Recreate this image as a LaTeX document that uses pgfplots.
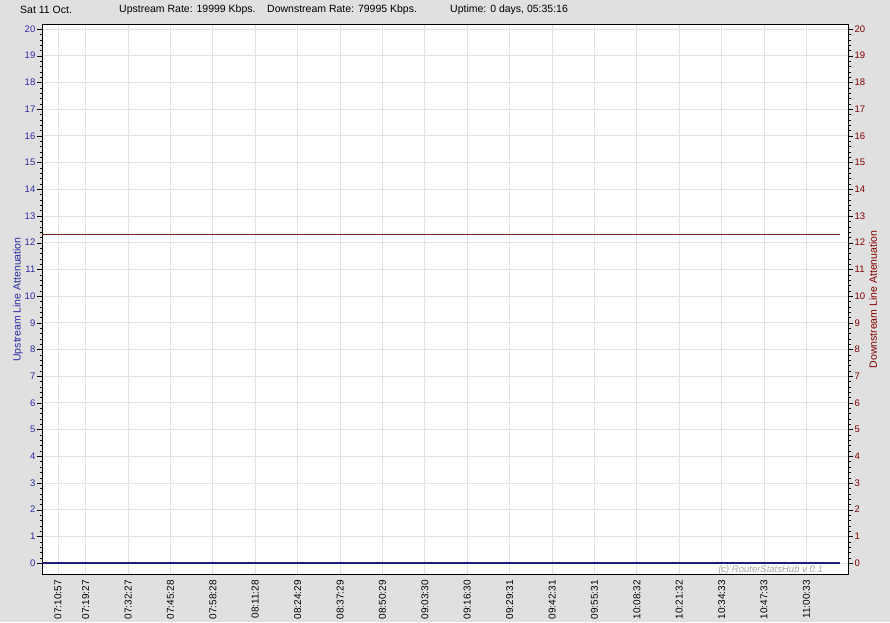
\documentclass[border=0pt]{standalone}
\usepackage{fontspec}
\setmainfont{Liberation Sans}
\usepackage{pgfplots}
\pgfplotsset{compat=1.18}
\definecolor{bg}{HTML}{E0E0E0}
\definecolor{upc}{HTML}{2B2BA0}
\definecolor{dnc}{HTML}{800000}
\definecolor{upline}{HTML}{1E1E78}
\definecolor{dnline}{HTML}{7A1E1E}
\definecolor{gridc}{HTML}{E2E2E2}
\begin{document}
\begin{tikzpicture}[x=1pt,y=1pt,font=\fontsize{10.5pt}{12.5pt}\selectfont]
\fill[bg] (0,0) rectangle (890,622);
\useasboundingbox (0,0) rectangle (890,622);
\node[anchor=west,inner sep=0] at (20,612) {Sat 11 Oct.};
\node[anchor=west,inner sep=0] at (119,612) {Upstream Rate: 19999 Kbps.};
\node[anchor=west,inner sep=0] at (267,612) {Downstream Rate: 79995 Kbps.};
\node[anchor=west,inner sep=0] at (450,612) {Uptime: 0 days, 05:35:16};
\pgfplotsset{
  base/.style={
    at={(42pt,48pt)}, anchor=south west, scale only axis,
    width=806pt, height=549pt,
    xmin=426.04, xmax=673.31, ymin=-0.41, ymax=20.15,
    ytick={0,1,...,20}, minor y tick num=4,
    tick align=outside, major tick length=5pt, minor tick length=2.5pt,
    /pgf/number format/assume math mode=true,
    yticklabel style={font=\fontsize{9.5pt}{11pt}\selectfont,inner sep=1.5pt},
    label style={font=\fontsize{10.5pt}{12.5pt}\selectfont},
  }
}
\begin{axis}[base,
  axis background/.style={fill=white},
  axis line style={black,line width=1pt},
  xmajorgrids, ymajorgrids,
  grid style={gridc,line width=0.8pt},
  xtick={430.95,439.45,452.45,465.4667,478.4667,491.4667,504.4833,517.4833,530.4833,543.5,556.5,569.5167,582.5167,595.5167,608.5333,621.5333,634.55,647.55,660.55},
  xticklabels={07:10:57,07:19:27,07:32:27,07:45:28,07:58:28,08:11:28,08:24:29,08:37:29,08:50:29,09:03:30,09:16:30,09:29:31,09:42:31,09:55:31,10:08:32,10:21:32,10:34:33,10:47:33,11:00:33},
  xticklabel style={rotate=90,anchor=east,inner sep=1pt,font=\fontsize{10pt}{12pt}\selectfont},
  xtick style={draw=none},
  ytick pos=left,
  yticklabel style={upc},
  ytick style={black},
  ylabel={Upstream Line Attenuation},
  ylabel style={upc},
  ylabel shift=-3pt,
]
\addplot[upline,line width=1.2pt] coordinates {(426.04,0) (670.8,0)};
\end{axis}
\begin{axis}[base,
  axis x line=none,
  axis y line*=right,
  axis line style={black,line width=1pt},
  yticklabel style={dnc},
  ytick style={black},
  ylabel={Downstream Line Attenuation},
  ylabel style={dnc},
  ylabel shift=-1pt,
]
\addplot[dnline,line width=1.2pt] coordinates {(426.04,12.3) (670.8,12.3)};
\end{axis}
\node[anchor=east,inner sep=0,text=black!35,font=\fontsize{9.5pt}{10pt}\selectfont\itshape] at (823,52) {(c) RouterStatsHub v 0.1};
\end{tikzpicture}
\end{document}
